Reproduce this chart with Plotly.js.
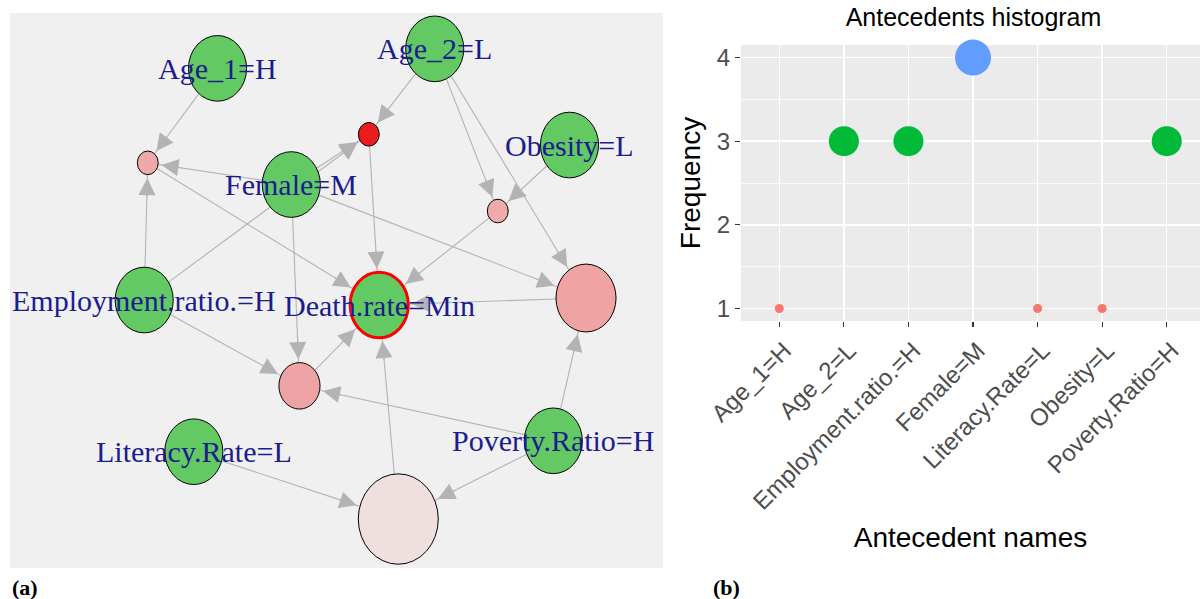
<!DOCTYPE html>
<html><head><meta charset="utf-8">
<script src="https://cdn.plot.ly/plotly-3.0.1.min.js"></script>
<style>html,body{margin:0;padding:0;background:#fff}#chart{width:1200px;height:599px}</style>
</head><body><div id="chart"></div>
<script>
// ---------- Panel (b): antecedents histogram ----------
const antecedentNames = ["Age_1=H","Age_2=L","Employment.ratio.=H","Female=M","Literacy.Rate=L","Obesity=L","Poverty.Ratio=H"];
const antecedentFreq = [1, 3, 3, 4, 1, 1, 3];

// ---------- Panel (a): rules graph ----------
const itemLabels = ["Age_1=H","Age_2=L","Obesity=L","Female=M","Employment.ratio.=H","Death.rate=Min","Literacy.Rate=L","Poverty.Ratio=H"];
// graph layout coordinates (layout units)
const itemLayoutX = [31.78, 65.04, 85.68, 43.08, 20.55, 56.54, 28.15, 83.20];
const itemLayoutY = [76.52, 79.51, 64.78, 58.73, 41.04, 40.28, 17.81, 19.48];
const ruleLayoutX = [21.10, 54.95, 74.70, 88.21, 44.33, 59.46];
const ruleLayoutY = [62.05, 66.42, 54.67, 41.35, 27.90, 7.50];
// rules: antecedent item indices -> consequent item index
const ruleLhs = [[0,3,4],[1,3,4],[1,2],[1,3,7],[3,4,7],[6,7]];
const ruleRhs = [5, 5, 5, 5, 5, 5];
const ruleShade = ["#EFA9A9","#EC1C1C","#EFAAAA","#EFA3A3","#EEA4A4","#EFDFDF"];
const ruleVertexSize = [3.2, 3.2, 3.2, 9.2, 6.3, 12.25];
const itemVertexSize = 8.9;
const itemColor = "#63C963";
const focusItem = 5;

// ---------- styling helpers ----------
const freqColor = {1: "#F8766D", 3: "#00BA38", 4: "#619CFF"};
const freqSize = {1: 9, 3: 30, 4: 36};
const ASPECT = 1.13;      // vertical stretch of vertex ellipses
const EDGE_COLOR = "#B3B3B3";

// node table
const nodes = [];
itemLabels.forEach((lab, i) => nodes.push({x: itemLayoutX[i], y: itemLayoutY[i], rx: itemVertexSize/2, ry: itemVertexSize/2*ASPECT,
  fill: itemColor, line: i === focusItem ? "#FF0000" : "#000000", lw: i === focusItem ? 3 : 1, label: lab}));
ruleLayoutX.forEach((x, j) => nodes.push({x: x, y: ruleLayoutY[j], rx: ruleVertexSize[j]/2, ry: ruleVertexSize[j]/2*ASPECT,
  fill: ruleShade[j], line: "#000000", lw: 1, label: null}));
const nItems = itemLabels.length;

// edges: antecedent item -> rule, rule -> consequent item
const edges = [];
ruleLhs.forEach((lhs, j) => {
  lhs.forEach(i => edges.push([i, nItems + j]));
  edges.push([nItems + j, ruleRhs[j]]);
});

function boundaryDist(n, ux, uy) {
  return 1 / Math.sqrt((ux/n.rx)*(ux/n.rx) + (uy/n.ry)*(uy/n.ry));
}

const ex = [], ey = [];
const arrowAnns = [];
const HEAD_W = 1.1, HEAD_S = 3.1;
edges.forEach(([s, t]) => {
  const a = nodes[s], b = nodes[t];
  const dx = b.x - a.x, dy = b.y - a.y;
  const len = Math.sqrt(dx*dx + dy*dy);
  const ux = dx/len, uy = dy/len;
  const ds = boundaryDist(a, ux, uy), dt = boundaryDist(b, ux, uy);
  const x0 = a.x + ux*ds, y0 = a.y + uy*ds;
  const x1 = b.x - ux*dt, y1 = b.y - uy*dt;
  ex.push(x0, x1, null); ey.push(y0, y1, null);
  arrowAnns.push({xref: "x2", yref: "y2", x: x1, y: y1, text: "", showarrow: true,
    ax: -ux*24, ay: uy*24, arrowhead: 2, arrowsize: HEAD_S, arrowwidth: HEAD_W,
    arrowcolor: EDGE_COLOR, standoff: HEAD_W*HEAD_S});
});

const shapes = [{type: "rect", xref: "x2 domain", yref: "y2 domain", x0: 0, x1: 1, y0: 0, y1: 1,
  fillcolor: "#F0F0F0", line: {width: 0}, layer: "below"}];
nodes.forEach(n => shapes.push({type: "circle", xref: "x2", yref: "y2",
  x0: n.x - n.rx, x1: n.x + n.rx, y0: n.y - n.ry, y1: n.y + n.ry,
  fillcolor: n.fill, line: {color: n.line, width: n.lw}, layer: "above"}));

const labelAnns = nodes.filter(n => n.label).map(n => ({xref: "x2", yref: "y2", x: n.x, y: n.y,
  text: n.label, showarrow: false, xanchor: "center", yanchor: "middle",
  font: {family: "Liberation Serif, 'Times New Roman', serif", size: 30, color: "#1C1C8F"}}));

const panelAnns = [
  {xref: "paper", yref: "paper", x: 10/1200, y: 1 - 587/599, xanchor: "left", yanchor: "middle", showarrow: false,
   text: "<b>(a)</b>", font: {family: "Liberation Serif, serif", size: 22, color: "#000"}},
  {xref: "paper", yref: "paper", x: 711/1200, y: 1 - 587/599, xanchor: "left", yanchor: "middle", showarrow: false,
   text: "<b>(b)</b>", font: {family: "Liberation Serif, serif", size: 22, color: "#000"}}
];

const traces = [
  {type: "scatter", mode: "lines", x: ex, y: ey, xaxis: "x2", yaxis: "y2",
   line: {color: EDGE_COLOR, width: 1.1}, hoverinfo: "skip", cliponaxis: false},
  {type: "scatter", mode: "markers", x: antecedentNames, y: antecedentFreq, xaxis: "x", yaxis: "y",
   marker: {color: antecedentFreq.map(f => freqColor[f]), size: antecedentFreq.map(f => freqSize[f]), opacity: 1, line: {width: 0}},
   cliponaxis: false}
];

const tickFont = {family: "Liberation Sans, Arial, sans-serif", size: 24, color: "#4D4D4D"};
const layout = {
  width: 1200, height: 599, margin: {l: 0, r: 0, t: 0, b: 0},
  paper_bgcolor: "#FFFFFF", plot_bgcolor: "#EBEBEB", showlegend: false,
  font: {family: "Liberation Sans, Arial, sans-serif"},
  title: {text: "Antecedents histogram", x: 973.5/1200, xanchor: "center", y: 1 - 17.5/599, yanchor: "middle",
    font: {size: 25, color: "#000"}},
  xaxis: {domain: [741/1200, 1], anchor: "y", type: "category", range: [-0.593, 6.515],
    showgrid: true, gridcolor: "#FFFFFF", gridwidth: 1.4, zeroline: false, showline: false,
    ticks: "outside", ticklen: 5, tickwidth: 1.2, tickcolor: "#333333", tickangle: -45, tickfont: tickFont,
    ticklabelshift: 5,
    title: {text: "Antecedent names", font: {size: 28, color: "#000"}, standoff: 13}, fixedrange: true},
  yaxis: {domain: [1 - 321/599, 1 - 45/599], anchor: "x", range: [0.85, 4.15], tickvals: [1, 2, 3, 4],
    showgrid: true, gridcolor: "#FFFFFF", gridwidth: 1.4, zeroline: false, showline: false,
    minor: {showgrid: true, gridcolor: "#FFFFFF", gridwidth: 0.7, tickvals: [1.5, 2.5, 3.5], ticks: ""},
    ticks: "outside", ticklen: 5, tickwidth: 1.2, tickcolor: "#333333", tickfont: tickFont,
    title: {text: "Frequency", font: {size: 28, color: "#000"}, standoff: 8}, fixedrange: true},
  xaxis2: {domain: [10/1200, 663/1200], anchor: "y2", range: [0, 100], visible: false, fixedrange: true},
  yaxis2: {domain: [1 - 568/599, 1 - 13/599], anchor: "x2", range: [0, 85], visible: false, fixedrange: true},
  shapes: shapes,
  annotations: arrowAnns.concat(labelAnns, panelAnns)
};

Plotly.newPlot("chart", traces, layout, {displayModeBar: false, staticPlot: true});
</script>
</body></html>
